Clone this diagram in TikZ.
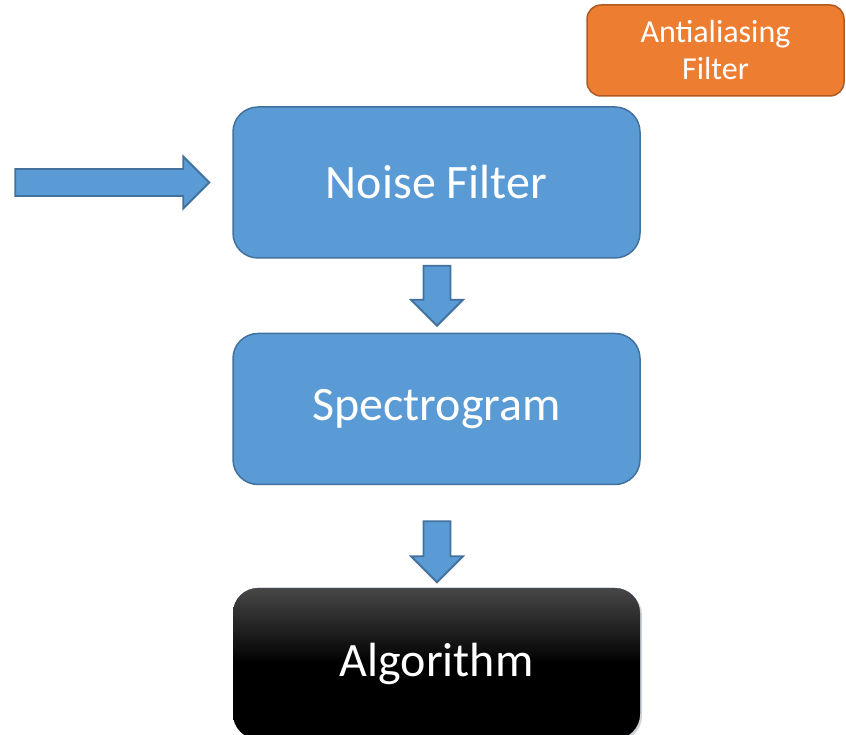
\documentclass[tikz,border=0pt]{standalone}
\usepackage{fontspec}
\setmainfont{Carlito}
\usetikzlibrary{positioning,calc,shadows}

\definecolor{boxblue}{HTML}{5B9BD5}
\definecolor{lineblue}{HTML}{41719C}
\definecolor{boxorange}{HTML}{ED7D31}
\definecolor{lineorange}{HTML}{AE5A21}

\tikzset{
  stage/.style={draw=lineblue, fill=boxblue, line width=1.5pt, rounded corners=25pt,
    minimum width=407pt, minimum height=151pt, text=white, font=\fontsize{48}{58}\selectfont},
  blockarrow/.style={draw=lineblue, fill=boxblue, line width=1.8pt,
    to path={($(\tikztostart)!13.5pt!90:(\tikztotarget)$)
      -- ($($(\tikztotarget)!26pt!(\tikztostart)$)!13.5pt!-90:(\tikztostart)$)
      -- ($($(\tikztotarget)!26pt!(\tikztostart)$)!26pt!-90:(\tikztostart)$)
      -- (\tikztotarget)
      -- ($($(\tikztotarget)!26pt!(\tikztostart)$)!26pt!90:(\tikztostart)$)
      -- ($($(\tikztotarget)!26pt!(\tikztostart)$)!13.5pt!90:(\tikztostart)$)
      -- ($(\tikztostart)!13.5pt!-90:(\tikztotarget)$) -- cycle}}
}

\begin{document}
\begin{tikzpicture}[x=1pt, y=1pt]
    \useasboundingbox (0,0) rectangle (846,735);

    % processing chain
    \node (nf) [stage] at (436.5,552.5) {Noise Filter};
    \node (sp) [stage, below=74pt of nf] {Spectrogram};
    \node (al) [stage, below=102pt of sp, draw=none, text=white,
      top color=black!72, bottom color=black, middle color=black,
      drop shadow={opacity=0.35, shadow xshift=2pt, shadow yshift=-2pt}] {Algorithm};

    % side note
    \node (aa) [draw=lineorange, fill=boxorange, line width=1.5pt, rounded corners=14pt,
      minimum width=257pt, minimum height=91pt, text=white, align=center,
      font=\fontsize{32}{37}\selectfont] at (715.5,684.5) {Antialiasing\\Filter};

    % arrows
    \coordinate (in) at ($(nf.west)+(-217,0)$);
    \coordinate (intip) at ($(nf.west)+(-23,0)$);
    \coordinate (d1top) at ($(nf.south)+(0.5,-7)$);
    \coordinate (d1tip) at ($(sp.north)+(0.5,7)$);
    \coordinate (d2top) at ($(sp.south)+(0.5,-36)$);
    \coordinate (d2tip) at ($(al.north)+(0.5,5)$);
    \draw[blockarrow] (in) to (intip);
    \draw[blockarrow] (d1top) to (d1tip);
    \draw[blockarrow] (d2top) to (d2tip);
\end{tikzpicture}
\end{document}
